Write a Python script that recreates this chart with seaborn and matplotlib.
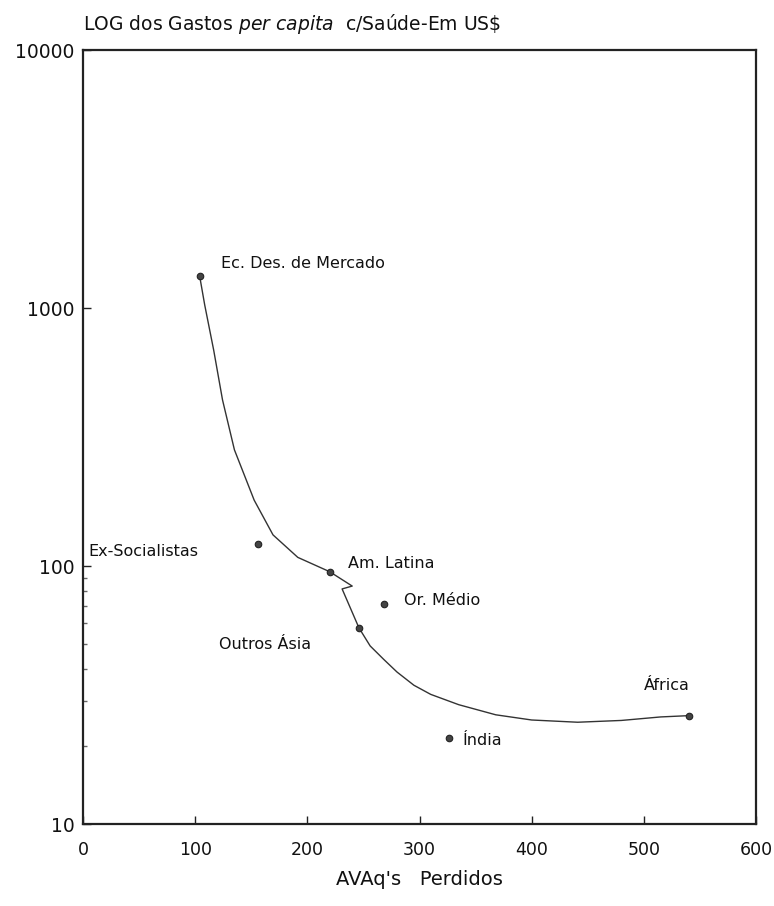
import matplotlib
matplotlib.use("Agg")
import matplotlib.pyplot as plt
import seaborn as sns
import pandas as pd

# --- data ---
regions = ["Ec. Des. de Mercado", "Ex-Socialistas", "Am. Latina", "Or. Médio",
           "Outros Ásia", "Índia", "África"]
avaq_lost = [104, 156, 220, 268, 246, 326, 540]
spend_pc = [1330, 122, 95, 71, 57.6, 21.5, 26.3]

curve_x = [104, 108.5, 116.5, 124.4, 135, 152.6, 169.4, 191.5, 220, 240, 231,
           246, 256, 268, 280, 295, 310, 335, 368, 400, 441, 480, 515, 540]
curve_y = [1330, 1028, 687, 440, 282, 180, 132, 108, 95, 83.6, 81.5,
           57.6, 49, 43.5, 38.8, 34.5, 31.8, 29, 26.5, 25.3, 24.8, 25.2, 26, 26.3]

x_ticks = [0, 100, 200, 300, 400, 500, 600]
y_ticks = [10, 100, 1000, 10000]
y_minor = [20, 30, 40, 50, 60, 70, 80, 90]

title = r"LOG dos Gastos $\it{per\ capita}$  c/Saúde-Em US\$"
x_label = "AVAq's   Perdidos"

pts = pd.DataFrame({"region": regions, "x": avaq_lost, "y": spend_pc})
crv = pd.DataFrame({"x": curve_x, "y": curve_y})

# label offsets in pixels (anchor of text relative to marker)
offsets = {
    "Ec. Des. de Mercado": (21, 13, "left"),
    "Ex-Socialistas": (-170, -8, "left"),
    "Am. Latina": (18, 8, "left"),
    "Or. Médio": (20, 4, "left"),
    "Outros Ásia": (-140, -17, "left"),
    "Índia": (14, -2, "left"),
    "África": (1, 30, "right"),
}

sns.set_style("white")
plt.rcParams["font.family"] = ["DejaVu Sans"]

fig = plt.figure(figsize=(7.74, 9.06), dpi=100)
ax = fig.add_axes([83 / 774, 1 - 824 / 906, 673 / 774, 774 / 906])

sns.lineplot(data=crv, x="x", y="y", sort=False, estimator=None, ax=ax,
             color="#333333", linewidth=1.0)
sns.scatterplot(data=pts, x="x", y="y", ax=ax, color="#444444", s=22,
                edgecolor="#222222", linewidth=0.8, zorder=5)

ax.set_yscale("log")
ax.set_xlim(0, 600)
ax.set_ylim(10, 10000)
ax.set_xticks(x_ticks)
ax.set_xticklabels([str(v) for v in x_ticks], fontsize=12.5)
ax.set_yticks(y_ticks)
ax.set_yticklabels([str(v) for v in y_ticks], fontsize=13.5)
ax.set_yticks(y_minor, minor=True)
ax.set_yticklabels([], minor=True)
ax.tick_params(bottom=True, left=True, which="both")
ax.tick_params(axis="both", which="major", direction="in", length=6, width=1,
               color="#222222", labelcolor="#111111")
ax.tick_params(axis="x", pad=12)
ax.tick_params(axis="y", pad=6)
ax.tick_params(axis="y", which="minor", direction="in", length=3, width=1,
               color="#666666")

for sp in ax.spines.values():
    sp.set_visible(True)
    sp.set_color("#222222")
    sp.set_linewidth(1.6)

ax.set_xlabel(x_label, fontsize=14, color="#111111", labelpad=8)
ax.set_ylabel("")
ax.annotate(title, (0, 1), xycoords="axes fraction", xytext=(0, 14),
            textcoords="offset pixels", fontsize=13.5, color="#111111",
            ha="left", va="bottom")

for r, x, y in zip(regions, avaq_lost, spend_pc):
    dx, dy, ha = offsets[r]
    ax.annotate(r, (x, y), xytext=(dx, dy), textcoords="offset pixels",
                fontsize=11.5, color="#111111", ha=ha, va="center")

fig.savefig("out.png", dpi=100)
